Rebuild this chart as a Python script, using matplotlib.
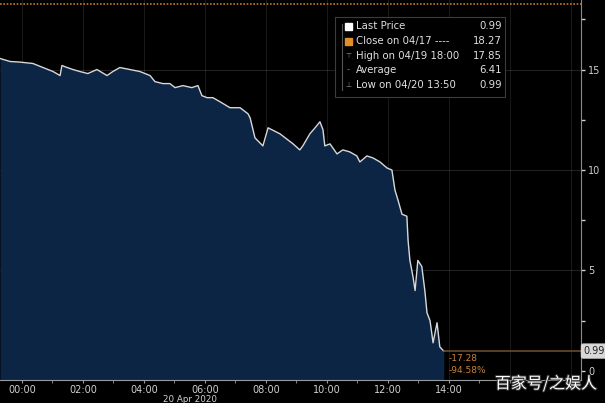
import matplotlib
matplotlib.use("Agg")
import matplotlib.pyplot as plt
from matplotlib.patches import Rectangle
import matplotlib.patheffects as pe

# hours relative to 00:00 on 20 Apr 2020 (negative = 19 Apr)
hours = [-0.72, -0.39, -0.07, 0.36, 0.69, 1.02, 1.25, 1.31, 1.48, 1.67, 1.90, 2.16,
         2.46, 2.79, 2.98, 3.21, 3.54, 3.87, 4.20, 4.36, 4.62, 4.85, 5.02, 5.28,
         5.57, 5.77, 5.90, 6.07, 6.26, 6.49, 6.82, 7.15, 7.41, 7.48, 7.64, 7.90,
         8.07, 8.46, 8.89, 9.11, 9.21, 9.44, 9.61, 9.77, 9.87, 9.93, 10.10, 10.33,
         10.52, 10.75, 10.98, 11.08, 11.31, 11.51, 11.74, 11.97, 12.13, 12.23, 12.33,
         12.46, 12.62, 12.66, 12.72, 12.82, 12.89, 12.98, 13.11, 13.21, 13.28, 13.38,
         13.48, 13.61, 13.70, 13.83]
prices = [15.55, 15.40, 15.37, 15.30, 15.10, 14.90, 14.70, 15.20, 15.10, 15.00, 14.90, 14.80,
          15.00, 14.70, 14.90, 15.10, 15.00, 14.90, 14.70, 14.40, 14.30, 14.30, 14.10, 14.20,
          14.10, 14.20, 13.70, 13.60, 13.60, 13.40, 13.10, 13.10, 12.80, 12.60, 11.60, 11.20,
          12.10, 11.80, 11.30, 11.00, 11.20, 11.80, 12.10, 12.40, 12.00, 11.20, 11.30, 10.80,
          11.00, 10.90, 10.70, 10.40, 10.70, 10.60, 10.40, 10.10, 10.00, 9.00, 8.50,
          7.80, 7.70, 6.50, 5.50, 4.70, 4.00, 5.50, 5.20, 4.00, 2.90, 2.50,
          1.40, 2.40, 1.20, 0.99]

x_ticks = [0, 2, 4, 6, 8, 10, 12, 14]
x_labels = ["00:00", "02:00", "04:00", "06:00", "08:00", "10:00", "12:00", "14:00"]
y_ticks = [0, 5, 10, 15]

legend_labels = ["Last Price", "Close on 04/17 ----", "High on 04/19 18:00", "Average", "Low on 04/20 13:50"]
legend_values = ["0.99", "18.27", "17.85", "6.41", "0.99"]
prev_close = 18.27
last_price = 0.99
change_text = ["-17.28", "-94.58%"]

W, H = 605, 403
fig = plt.figure(figsize=(W / 100, H / 100), dpi=100, facecolor="black")
ax = fig.add_axes([0, 1 - 380 / H, 581 / W, 380 / H])
ax.set_facecolor("black")

xmin, xmax = -0.72, 18.33
ymin, ymax = -0.45, 18.46
ax.set_xlim(xmin, xmax)
ax.set_ylim(ymin, ymax)

# grid
for yv in [5, 10, 15]:
    ax.axhline(yv, color="white", alpha=0.13, lw=0.8, zorder=1)
for xv in range(0, 19, 2):
    ax.axvline(xv, color="white", alpha=0.10, lw=0.8, zorder=1)

ax.fill_between(hours, prices, ymin - 1, color="#0c2545", zorder=2, lw=0)
ax.plot(hours, prices, color="#d8d8d8", lw=1.0, zorder=3)
ax.axhline(prev_close, color="#c07a30", lw=1.2, ls=(0, (1, 1)), zorder=4)
ax.plot([hours[-1], xmax], [last_price, last_price], color="#6b4a2a", lw=1.2, zorder=4)

ax.text(13.98, 0.6, change_text[0], color="#c8823a", fontsize=6.5, va="center", ha="left", zorder=5)
ax.text(13.98, 0.0, change_text[1], color="#c8823a", fontsize=6.5, va="center", ha="left", zorder=5)

# spines/ticks
for s in ["top", "left"]:
    ax.spines[s].set_visible(False)
ax.spines["right"].set_color("#8a8a8a")
ax.spines["bottom"].set_color("#9a9a9a")
ax.yaxis.tick_right()
ax.set_yticks(y_ticks)
ax.set_yticks([2.5, 7.5, 12.5, 17.5], minor=True)
ax.tick_params(axis="y", which="both", colors="#d0d0d0", labelsize=7, length=3, width=1, pad=2)
ax.set_xticks(x_ticks)
ax.set_xticklabels(x_labels)
ax.set_xticks(list(range(0, 19)), minor=True)
ax.tick_params(axis="x", which="both", colors="#9a9a9a", labelcolor="#d0d0d0", labelsize=7, length=2, pad=1.5)

# last price label
ax.text(xmax + 0.08, last_price, "0.99", color="#222222", fontsize=7, va="center", ha="left",
        bbox=dict(boxstyle="round,pad=0.2", fc="#d8d8d8", ec="#d8d8d8"), clip_on=False, zorder=6)

# date label
fig.text(190 / W, 1 - 399 / H, "20 Apr 2020", color="#d0d0d0", fontsize=6.3, ha="center", va="center")

# legend box
fig.add_artist(Rectangle((335 / W, 1 - 97 / H), 170 / W, 80 / H, transform=fig.transFigure,
                         fc="black", ec="#3c3c3c", lw=0.8, zorder=10))
fig.add_artist(plt.Line2D([342 / W, 342 / W], [1 - 24 / H, 1 - 90 / H], transform=fig.transFigure,
                          color="#555555", lw=0.8, zorder=11))
rows_y = [26, 41, 56, 70, 85]
for i, (lab, val) in enumerate(zip(legend_labels, legend_values)):
    yy = 1 - rows_y[i] / H
    fig.text(356 / W, yy, lab, color="#e0e0e0", fontsize=7.3, ha="left", va="center", zorder=12)
    fig.text(502 / W, yy, val, color="#e0e0e0", fontsize=7.3, ha="right", va="center", zorder=12)
fig.add_artist(Rectangle((345 / W, 1 - 30 / H), 7 / W, 7 / H, transform=fig.transFigure,
                         fc="white", ec="white", zorder=12))
fig.add_artist(Rectangle((345 / W, 1 - 45 / H), 7 / W, 7 / H, transform=fig.transFigure,
                         fc="#e0902a", ec="#e0902a", zorder=12))
fig.text(348 / W, 1 - 56 / H, "⊤", color="#888888", fontsize=5, ha="center", va="center", zorder=12)
fig.text(348 / W, 1 - 70 / H, "-", color="#888888", fontsize=6, ha="center", va="center", zorder=12)
fig.text(348 / W, 1 - 85 / H, "⊥", color="#888888", fontsize=5, ha="center", va="center", zorder=12)

# watermark
fig.text(546 / W, 1 - 384 / H, "百家号/之娱人", color="white", fontsize=11.5,
         family=["Noto Sans CJK SC", "DejaVu Sans"], ha="center", va="center", zorder=20,
         path_effects=[pe.withStroke(linewidth=1.5, foreground="#333333")])

fig.savefig("out.png", dpi=100, facecolor="black")
